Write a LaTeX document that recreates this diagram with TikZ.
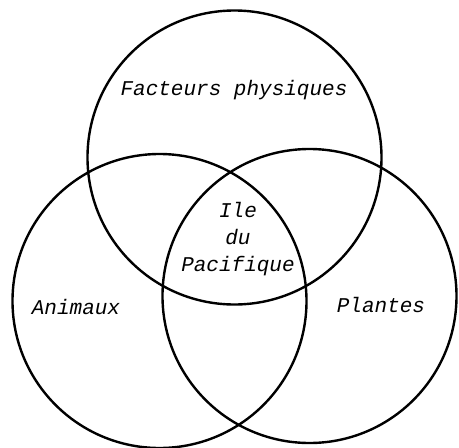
\documentclass[tikz,border=0pt]{standalone}
\usepackage{fontspec}
\newfontfamily\courfont{Liberation Mono}
\begin{document}
\begin{tikzpicture}[x=1pt,y=-1pt,
  venn/.style={circle,draw,line width=2.4pt,inner sep=0pt,minimum size=294pt},
  lbl/.style={font=\courfont\itshape\fontsize{21}{27}\selectfont,align=center,inner sep=0pt}]
\useasboundingbox (0,0) rectangle (459,448);
\fill[white] (0,0) rectangle (459,448);
\node[venn] (top) at (234.5,157.5) {};
\node[venn] (left) at (159.5,301) {};
\node[venn] (right) at (309.5,296) {};
\node[lbl] (phys) at (234,90) {Facteurs physiques};
\node[lbl] (ile) at (238,239) {Ile\\du\\Pacifique};
\node[lbl] (anim) at (76,307) {Animaux};
\node[lbl] (plant) at (381,305) {Plantes};
\end{tikzpicture}
\end{document}
